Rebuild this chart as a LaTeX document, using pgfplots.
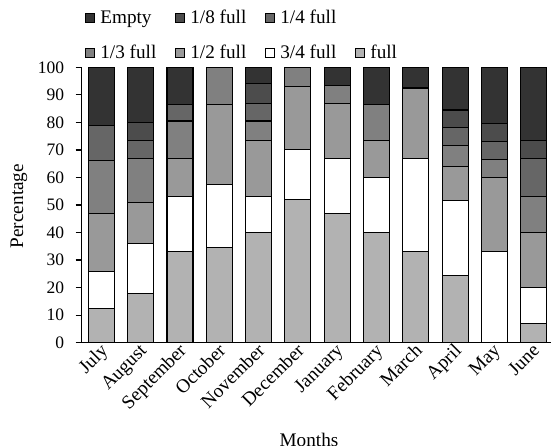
\documentclass[border=0pt]{standalone}
\usepackage{fontspec}
\setmainfont{Liberation Serif}
\usepackage{pgfplots}
\usepackage{pgfplotstable}
\pgfplotsset{compat=1.18}

\definecolor{cEmpty}{gray}{0.20}
\definecolor{cEighth}{gray}{0.30}
\definecolor{cQuarter}{gray}{0.40}
\definecolor{cThird}{gray}{0.50}
\definecolor{cHalf}{gray}{0.60}
\definecolor{cThreeQ}{gray}{1.00}
\definecolor{cFull}{gray}{0.70}

% percentage of each fill level per month
\pgfplotstableread{
x month full threeq half third quarter eighth empty
0  July      12.5 13.5 21   19   13   0    21
1  August    18   18   15   16   6.5  6.5  20
2  September 33   20   14   13.5 6    0    13.5
3  October   34.5 23   29   13.5 0    0    0
4  November  40   13   20.5 7    6.5  7    6
5  December  52   18   23   7    0    0    0
6  January   47   20   20   6.5  0    0    6.5
7  February  40   20   13.5 13   0    0    13.5
8  March     33   34   25.5 0    0    0    7.5
9  April     24.5 27   12.5 7.5  6.5  6.5  15.5
10 May       0    33   27   6.5  6.5  6.5  20.5
11 June      7    13   20   13   14   6.5  26.5
}\fuel

\begin{document}
\begin{tikzpicture}
  \useasboundingbox (-81.7pt,-102.3pt) rectangle (469.3pt,342.7pt);
  \begin{axis}[
      scale only axis,
      width=471.6pt, height=275.4pt,
      font=\fontsize{19.2}{23}\selectfont,
      ybar stacked,
      bar width=26pt,
      xmin=-0.5, xmax=11.5,
      ymin=0, ymax=100,
      axis lines=left,
      axis line style={-, line width=1.2pt, black},
      tick align=outside,
      major tick length=6pt,
      minor tick length=6pt,
      xtick={0,...,11},
      xticklabels={July,August,September,October,November,December,January,February,March,April,May,June},
      x tick style={draw=none},
      minor xtick={-0.5,0.5,...,11.5},
      minor x tick style={line width=1.2pt, black},
      ytick={0,10,...,100},
      y tick style={line width=1.2pt, black},
      /pgf/number format/assume math mode=true,
      yticklabel style={font=\fontsize{17.5}{20}\selectfont, xshift=-8pt},
      xticklabel style={rotate=45, anchor=north east, inner sep=0pt, xshift=3pt, yshift=6pt},
      xlabel={Months},
      ylabel={Percentage},
      xlabel style={at={(axis description cs:0.482,-0.353)}, anchor=center},
      ylabel style={at={(axis description cs:-0.133,0.496)}, anchor=center},
      every axis plot/.append style={draw=black, line width=1.1pt},
      legend columns=4,
      legend cell align=left,
      legend image code/.code={\draw[#1, line width=1pt] (0pt,-4.5pt) rectangle (9pt,4.5pt);},
      legend style={draw=none, fill=none, inner sep=0pt,
        at={(axis description cs:0.0074,1.017)}, anchor=south west,
        row sep=16pt,
        /tikz/every odd column/.append style={column sep=3pt},
        /tikz/every even column/.append style={column sep=17pt}},
    ]
    \addlegendimage{fill=cEmpty, draw=black}\addlegendentry{Empty}
    \addlegendimage{fill=cEighth, draw=black}\addlegendentry{1/8 full}
    \addlegendimage{fill=cQuarter, draw=black}\addlegendentry{1/4 full}
    \addlegendimage{empty legend}\addlegendentry{}
    \addlegendimage{fill=cThird, draw=black}\addlegendentry{1/3 full}
    \addlegendimage{fill=cHalf, draw=black}\addlegendentry{1/2 full}
    \addlegendimage{fill=cThreeQ, draw=black}\addlegendentry{3/4 full\hspace{6pt}}
    \addlegendimage{fill=cFull, draw=black}\addlegendentry{full}

    \addplot [fill=cFull, forget plot] table [x=x, y=full] {\fuel};
    \addplot [fill=cThreeQ, forget plot] table [x=x, y=threeq] {\fuel};
    \addplot [fill=cHalf, forget plot] table [x=x, y=half] {\fuel};
    \addplot [fill=cThird, forget plot] table [x=x, y=third] {\fuel};
    \addplot [fill=cQuarter, forget plot] table [x=x, y=quarter] {\fuel};
    \addplot [fill=cEighth, forget plot] table [x=x, y=eighth] {\fuel};
    \addplot [fill=cEmpty, forget plot] table [x=x, y=empty] {\fuel};
  \end{axis}
\end{tikzpicture}
\end{document}
